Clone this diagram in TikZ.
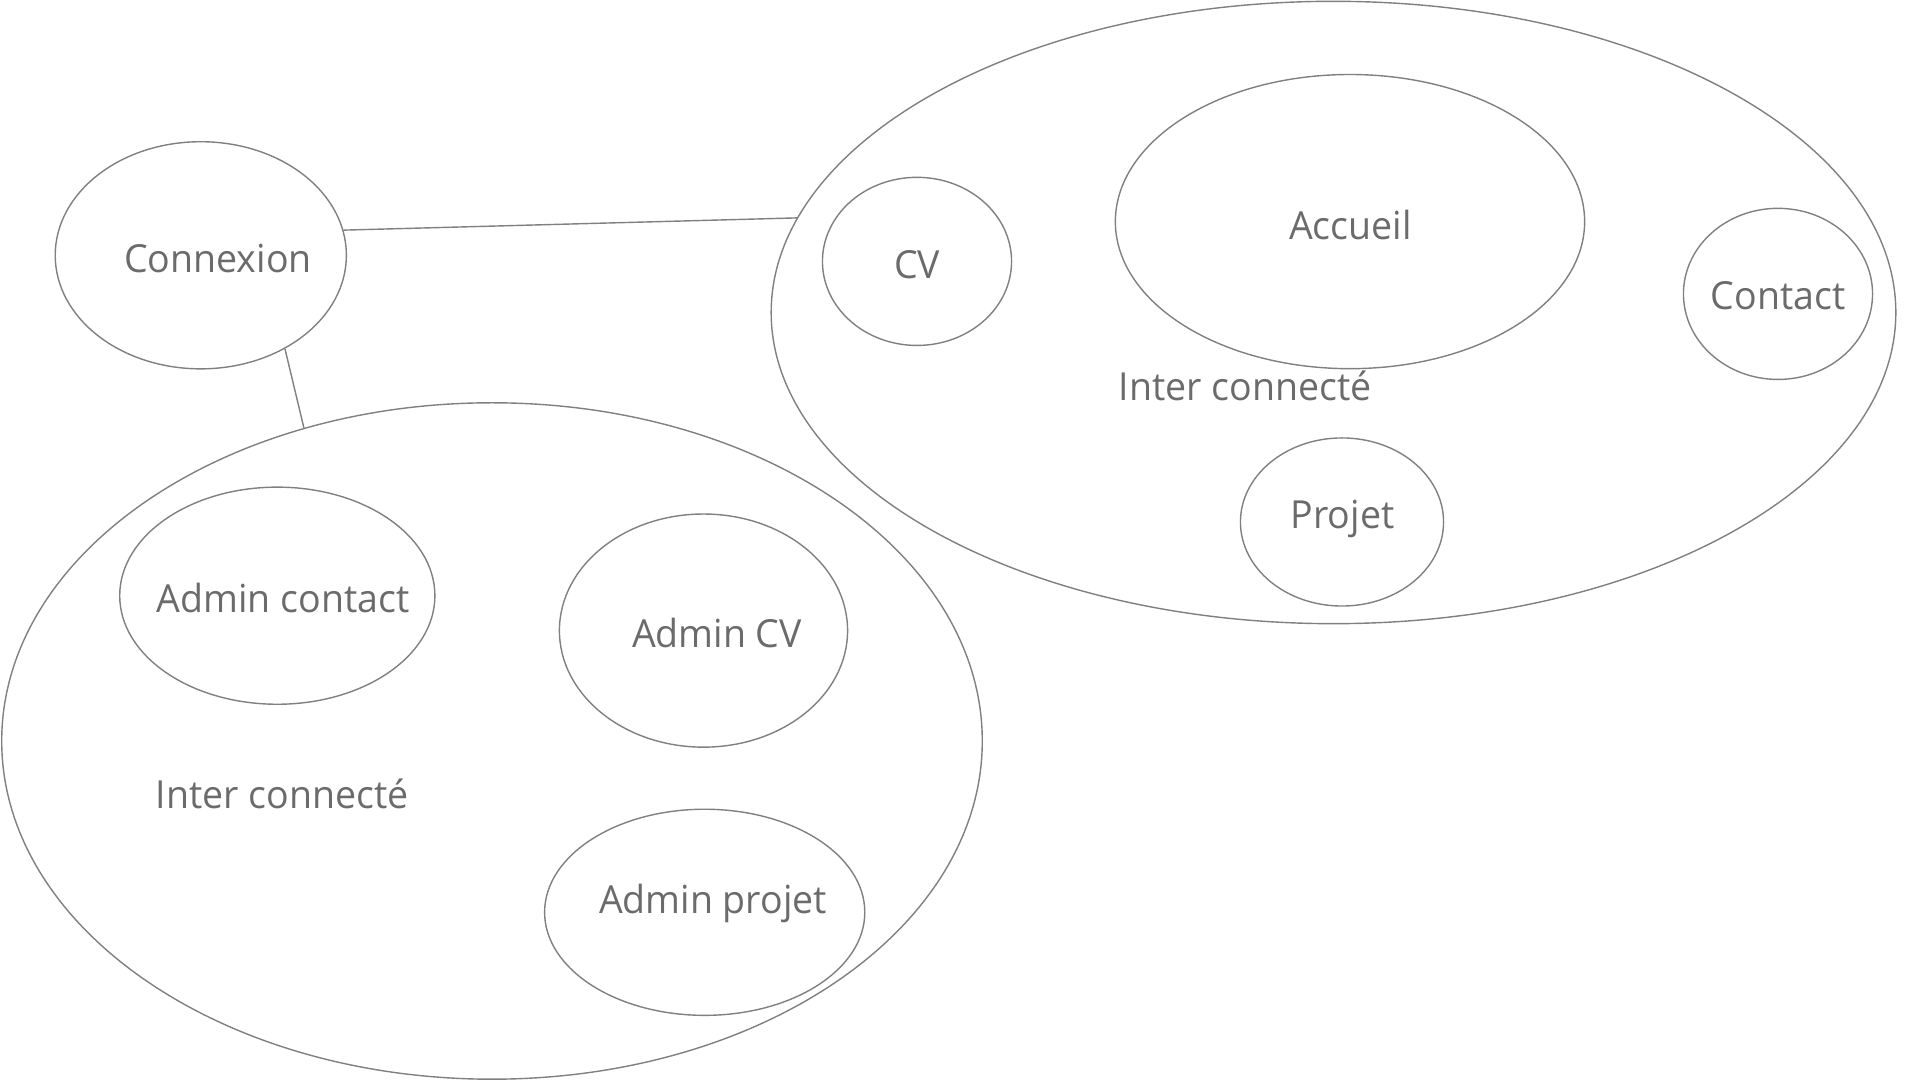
\documentclass[tikz,border=0pt]{standalone}
\usepackage{fontspec}
\setmainfont[FakeStretch=0.97]{Open Sans}
\usepackage{tikz}
\usetikzlibrary{shapes.geometric}
\definecolor{inkgray}{HTML}{6B6B6B}
\definecolor{rimgray}{HTML}{808080}

\begin{document}
\begin{tikzpicture}[x=0.01cm, y=-0.01cm,
    bubble/.style={draw=rimgray, line width=0.4pt, ellipse, inner sep=0pt},
    lbl/.style={font=\fontsize{11}{13}\selectfont, text=inkgray, anchor=base, inner sep=0pt},
    link/.style={draw=rimgray, line width=0.4pt}]
  \useasboundingbox (0,0) rectangle (1920,1080);
  % --- connexion ---
  \node[bubble, minimum width=2.91cm, minimum height=2.27cm] (cnx) at (200.8,255.3) {};
  \node[lbl] (cnx-t) at (218,273) {Connexion};
  % --- partie publique ---
  \node[bubble, minimum width=11.24cm, minimum height=6.22cm] (site) at (1333.5,312.5) {};
  \node[bubble, minimum width=1.89cm, minimum height=1.68cm] (cv) at (917,261.4) {};
  \node[bubble, minimum width=4.69cm, minimum height=2.94cm] (accueil) at (1350,221.6) {};
  \node[bubble, minimum width=1.89cm, minimum height=1.71cm] (contact) at (1778,293.9) {};
  \node[bubble, minimum width=2.03cm, minimum height=1.68cm] (projet) at (1342,522) {};
  \node[lbl] (cv-t) at (917,278.5) {CV};
  \node[lbl] (accueil-t) at (1350.5,239.3) {Accueil};
  \node[lbl] (contact-t) at (1778,310) {Contact};
  \node[lbl] (projet-t) at (1342.6,528.3) {Projet};
  \node[lbl, anchor=base west] (site-t) at (1118,400.5) {Inter connecté};
  % --- partie admin ---
  \node[bubble, minimum width=9.80cm, minimum height=6.76cm] (admin) at (492,741) {};
  \node[bubble, minimum width=3.15cm, minimum height=2.17cm] (acontact) at (277.3,595.7) {};
  \node[bubble, minimum width=2.88cm, minimum height=2.33cm] (acv) at (703.5,630.6) {};
  \node[bubble, minimum width=3.20cm, minimum height=2.06cm] (aprojet) at (704.7,912.3) {};
  \node[lbl] (acontact-t) at (283,612.7) {Admin contact};
  \node[lbl] (acv-t) at (717,647.7) {Admin CV};
  \node[lbl] (aprojet-t) at (713,913.3) {Admin projet};
  \node[lbl, anchor=base west] (admin-t) at (155,808.3) {Inter connecté};
  % --- liens ---
  \draw[link] (cnx.10.5) -- (site.170.7);
  \draw[link] (cnx.-48) -- (admin.121);
\end{tikzpicture}
\end{document}
